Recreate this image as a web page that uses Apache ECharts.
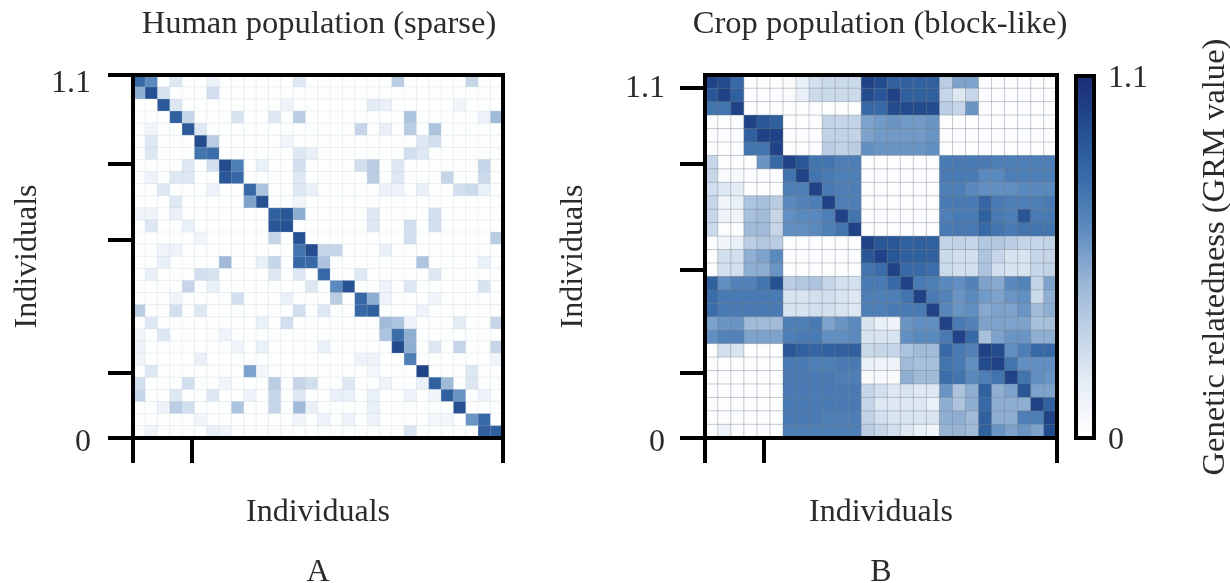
<!DOCTYPE html>
<html><head><meta charset="utf-8">
<script src="https://cdn.jsdelivr.net/npm/echarts@6/dist/echarts.min.js"></script>
<style>html,body{margin:0;background:#fff}#c{width:1230px;height:583px}</style></head>
<body><div id="c"></div>
<script>
// ---------- text ----------
const titleHuman = 'Human population (sparse)';
const titleCrop = 'Crop population (block-like)';
const axisTitle = 'Individuals';
const barTitle = 'Genetic relatedness (GRM value)';
const panelNames = ['A', 'B'];
// ---------- tick positions in GRM units ----------
const humanXTicks = [0, 0.175, 1.1];
const humanYTicks = [0, 0.197, 0.6, 0.83, 1.1];
const humanYLabels = [0, 1.09];
const cropXTicks = [0, 0.184, 1.1];
const cropYTicks = [0, 0.197, 0.51, 0.83, 1.06];
const cropYLabels = [0, 1.075];
const barLabels = [0, 1.1];
// ---------- panel A: sparse matrix, [col, row, value] ----------
const humanSize = 30;
const humanBackground = 0.012;
const humanNearDiagonal = [
 [0,0,.8],[1,0,.65],[0,1,.5],[1,1,.92],[2,1,.22],[2,2,.88],[3,2,.2],[3,3,.85],[4,3,.3],[4,4,.88],[5,4,.2],
 [5,5,.95],[6,5,.35],[5,6,.75],[6,6,.78],[7,7,.95],[8,7,.7],[7,8,.9],[8,8,.8],[9,9,.8],[10,9,.4],[9,10,.55],[10,10,.92],
 [11,11,.85],[12,11,.9],[13,11,.5],[11,12,.9],[12,12,.92],[11,13,.3],[13,13,.92],[14,14,.95],[13,14,.75],[15,14,.3],
 [13,15,.8],[14,15,.8],[15,15,.4],[15,16,.8],[16,17,.65],[17,17,.92],[16,18,.35],[18,18,.8],[19,18,.5],[18,19,.8],[19,19,.85],
 [20,20,.45],[21,20,.4],[20,21,.4],[21,21,.78],[22,21,.5],[21,22,.95],[22,22,.5],[22,23,.7],[23,24,1.0],[24,25,.85],[25,25,.45],
 [25,26,.85],[26,26,.6],[26,27,.92],[27,28,.6],[28,28,.8],[28,29,.85],[29,29,.85]
];
const humanTopRows = [
 [6,0,.12],[3,0,.2],[13,0,.2],[21,0,.35],[27,0,.3],[6,1,.25],[12,2,.12],[19,2,.18],[20,2,.15],[26,2,.1],
 [13,3,.35],[8,3,.22],[11,3,.2],[22,3,.4],[29,3,.45],[28,3,.12],[18,4,.3],[20,4,.15],[22,4,.35],[24,4,.4],[1,4,.1],
 [1,5,.2],[12,5,.1],[23,5,.2],[24,5,.25],[1,6,.2],[13,6,.2],[23,6,.2],[22,6,.25],[14,6,.15],
 [4,7,.2],[6,7,.25],[10,7,.15],[13,7,.25],[18,7,.25],[19,7,.35],[21,7,.2],[28,7,.3],
 [3,8,.2],[4,8,.2],[1,8,.12],[13,8,.2],[19,8,.35],[21,8,.2],[25,8,.3],[28,8,.28],
 [2,9,.2],[6,9,.12],[13,9,.2],[14,9,.15],[20,9,.12],[21,9,.12],[23,9,.15],[26,9,.25],[27,9,.28],[28,9,.15],
 [3,10,.2],[13,10,.1],[1,11,.1],[3,11,.15],[0,11,.1],[19,11,.2],[24,11,.25],
 [4,12,.15],[1,12,.2],[22,12,.25],[24,12,.25],[19,12,.2],[5,13,.1],[22,13,.25],[29,13,.35],[3,14,.12],[2,14,.1],[16,14,.3],[20,14,.15]
];
const humanBottomRows = [
 [7,15,.45],[2,15,.15],[10,15,.15],[11,15,.3],[23,15,.4],[28,15,.15],[1,16,.15],[5,16,.25],[6,16,.22],[11,16,.2],[13,16,.2],[18,16,.2],[24,16,.2],
 [4,17,.3],[6,17,.15],[14,17,.2],[20,17,.12],[22,17,.2],[28,17,.22],[8,18,.25],[3,18,.1],[12,18,.15],[20,18,.12],[24,18,.1],
 [0,19,.35],[3,19,.25],[5,19,.2],[13,19,.25],[15,19,.2],[23,19,.12],[1,20,.2],[10,20,.15],[12,20,.25],[26,20,.18],[29,20,.3],[22,20,.12],
 [2,21,.2],[7,21,.12],[0,21,.1],[8,22,.1],[10,22,.15],[0,22,.12],[15,22,.15],[24,22,.2],[26,22,.3],[29,22,.3],
 [5,23,.15],[0,23,.1],[18,23,.12],[19,23,.12],[29,23,.1],[9,24,.55],[1,24,.2],[10,24,.08],[19,24,.08],[27,24,.2],
 [4,25,.25],[7,25,.1],[11,25,.35],[13,25,.3],[14,25,.25],[0,25,.25],[17,25,.2],[20,25,.12],[23,25,.15],[27,25,.2],
 [0,26,.3],[3,26,.2],[6,26,.2],[9,26,.12],[11,26,.3],[13,26,.2],[16,26,.15],[17,26,.15],[19,26,.15],[22,26,.12],[24,26,.1],[28,26,.12],
 [3,27,.35],[11,27,.3],[13,27,.45],[2,27,.12],[4,27,.25],[8,27,.4],[14,27,.15],[19,27,.15],
 [5,28,.1],[13,28,.1],[15,28,.12],[17,28,.12],[19,28,.12],[24,28,.08],[25,28,.08],[1,29,.1],[6,29,.15],[7,29,.1],[22,29,.22]
];
// ---------- panel B: block matrix, one array per row ----------
const cropRow00=[1.0,.95,.8,.02,.02,.02,.05,.15,.25,.28,.28,.28,1.0,.95,.85,.85,.85,.85,.35,.55,.55,.02,.02,.02,.02,.02,.02];
const cropRow01=[.9,1.0,.85,.02,.02,.02,.05,.15,.28,.28,.28,.28,.95,.9,1.0,.85,.85,.85,.3,.2,.3,.02,.02,.02,.02,.02,.02];
const cropRow02=[.75,.75,1.0,.02,.02,.02,.02,.02,.02,.02,.02,.02,.8,.8,.95,.95,.95,.95,.35,.3,.6,.02,.02,.02,.02,.02,.02];
const cropRow03=[.02,.02,.02,1.0,.9,.85,.02,.02,.02,.32,.3,.32,.55,.58,.6,.58,.58,.6,.02,.02,.02,.02,.02,.02,.02,.02,.02];
const cropRow04=[.02,.02,.02,.85,1.0,1.0,.02,.02,.02,.32,.32,.32,.55,.58,.58,.58,.58,.6,.02,.02,.02,.02,.02,.02,.02,.02,.02];
const cropRow05=[.02,.02,.02,.75,.75,1.0,.02,.02,.02,.35,.32,.35,.62,.6,.6,.6,.6,.62,.02,.02,.02,.02,.02,.02,.02,.02,.02];
const cropRow06=[.3,.02,.02,.02,.6,.8,1.0,.9,.75,.75,.7,.7,.02,.02,.02,.02,.02,.02,.72,.72,.72,.72,.7,.7,.7,.7,.7];
const cropRow07=[.3,.05,.05,.02,.02,.02,.75,1.0,.75,.72,.7,.7,.02,.02,.02,.02,.02,.02,.72,.72,.72,.65,.65,.7,.7,.7,.7];
const cropRow08=[.25,.2,.18,.02,.02,.02,.7,.7,1.0,.72,.7,.7,.02,.02,.02,.02,.02,.02,.7,.7,.65,.62,.62,.62,.65,.65,.65];
const cropRow09=[.3,.1,.15,.4,.42,.35,.65,.68,.7,1.0,.7,.7,.02,.02,.02,.02,.02,.02,.72,.72,.72,.82,.72,.7,.7,.7,.72];
const cropRow10=[.3,.12,.1,.42,.45,.3,.62,.65,.65,.7,1.0,.75,.02,.02,.02,.02,.02,.02,.7,.72,.72,.85,.72,.7,.9,.72,.72];
const cropRow11=[.28,.02,.02,.45,.45,.3,.62,.62,.65,.7,.75,1.0,.02,.02,.02,.02,.02,.02,.72,.72,.72,.8,.75,.72,.75,.75,.75];
const cropRow12=[.02,.1,.15,.35,.38,.35,.02,.02,.02,.02,.02,.02,1.0,.9,.9,.85,.85,.85,.32,.32,.3,.38,.38,.35,.3,.3,.32];
const cropRow13=[.02,.25,.25,.5,.55,.65,.02,.02,.02,.02,.02,.02,.9,1.0,.9,.85,.85,.85,.28,.25,.25,.4,.3,.22,.22,.3,.3];
const cropRow14=[.02,.25,.25,.5,.5,.6,.02,.02,.02,.02,.02,.02,.75,.78,1.0,.8,.8,.78,.28,.25,.25,.4,.25,.22,.22,.3,.32];
const cropRow15=[.85,.62,.68,.68,.75,.92,.35,.38,.4,.3,.25,.25,.72,.72,.8,1.0,.72,.7,.65,.62,.68,.55,.52,.65,.68,.32,.55];
const cropRow16=[.78,.72,.72,.72,.72,.72,.22,.22,.25,.25,.22,.2,.7,.7,.7,.75,1.0,.72,.68,.6,.65,.58,.55,.6,.62,.28,.5];
const cropRow17=[.78,.72,.72,.72,.72,.72,.22,.22,.25,.25,.22,.2,.7,.7,.72,.72,.72,1.0,.66,.6,.62,.52,.55,.55,.6,.45,.5];
const cropRow18=[.55,.6,.6,.45,.45,.45,.7,.7,.72,.55,.6,.65,.22,.15,.12,.6,.62,.62,1.0,.72,.68,.55,.55,.55,.55,.42,.42];
const cropRow19=[.62,.68,.68,.55,.55,.55,.7,.72,.72,.62,.62,.65,.22,.22,.22,.62,.65,.65,.72,1.0,.8,.42,.55,.6,.6,.5,.5];
const cropRow20=[.02,.25,.22,.02,.02,.02,.9,.85,.82,.85,.85,.85,.28,.3,.3,.4,.45,.45,.8,.72,.68,1.0,.95,.62,.7,.8,.8];
const cropRow21=[.02,.02,.02,.02,.02,.02,.72,.72,.7,.7,.72,.72,.15,.12,.12,.45,.42,.42,.75,.72,.62,.95,1.0,.75,.62,.62,.62];
const cropRow22=[.02,.02,.02,.02,.02,.02,.72,.72,.72,.72,.7,.7,.05,.05,.05,.5,.45,.45,.78,.75,.65,.7,.75,1.0,.75,.62,.6];
const cropRow23=[.02,.02,.02,.02,.02,.02,.72,.72,.72,.72,.72,.72,.3,.25,.2,.22,.2,.2,.6,.4,.5,.85,.5,.55,.9,.55,.55];
const cropRow24=[.02,.02,.02,.02,.02,.02,.72,.72,.72,.72,.72,.72,.3,.2,.2,.2,.2,.15,.5,.4,.5,.8,.5,.5,.5,1.0,.85];
const cropRow25=[.02,.02,.02,.02,.02,.02,.72,.72,.72,.7,.7,.7,.32,.25,.22,.22,.22,.22,.5,.5,.45,.85,.5,.5,.7,.7,1.0];
const cropRow26=[.02,.12,.02,.02,.02,.02,.7,.7,.7,.7,.7,.7,.35,.3,.25,.2,.15,.1,.48,.48,.45,.85,.6,.55,.6,.55,.95];
const cropRows=[cropRow00,cropRow01,cropRow02,cropRow03,cropRow04,cropRow05,cropRow06,cropRow07,cropRow08,cropRow09,cropRow10,cropRow11,cropRow12,cropRow13,cropRow14,cropRow15,cropRow16,cropRow17,cropRow18,cropRow19,cropRow20,cropRow21,cropRow22,cropRow23,cropRow24,cropRow25,cropRow26];

// ---------- build ----------
const humanGrid=Array.from({length:humanSize},()=>Array(humanSize).fill(humanBackground));
humanTopRows.concat(humanBottomRows,humanNearDiagonal).forEach(([c,r,v])=>{humanGrid[r][c]=v;});
const toCells=rows=>rows.flatMap((row,r)=>row.map((v,c)=>[c,r,v]));
const ids=n=>Array.from({length:n},(_,i)=>String(i+1));

const FONT='"Liberation Serif","Times New Roman",serif', INK='#2b2b2b', FS=32, LINE=4;
const textStyle={fontFamily:FONT,fontSize:FS,color:INK,fontWeight:'normal'};
const titleStyle={...textStyle,fontSize:32.6};
const axLine={show:true,onZero:false,lineStyle:{color:'#000',width:LINE,cap:'square'}};
const label=v=>'{t|'+(v===0?'0':'1.1')+'}';
const shifted=dy=>({t:{...textStyle,padding:[dy,0,0,0]}});
const catX=(gi,n)=>({type:'category',gridIndex:gi,data:ids(n),show:false});
const catY=(gi,n)=>({type:'category',gridIndex:gi,data:ids(n),show:false,inverse:true});
const bottomAxis=(gi,ticks)=>({type:'value',gridIndex:gi,position:'bottom',min:0,max:1.1,z:6,
  name:axisTitle,nameLocation:'middle',nameGap:59,nameMoveOverlap:false,nameTextStyle:textStyle,
  axisLine:axLine,splitLine:{show:false},axisLabel:{show:false},
  axisTick:{show:true,customValues:ticks,length:25,lineStyle:{color:'#000',width:LINE}}});
const leftAxis=(gi,ticks,labels,gap,margin)=>({type:'value',gridIndex:gi,position:'left',min:0,max:1.1,z:6,
  name:axisTitle,nameLocation:'middle',nameGap:gap,nameMoveOverlap:false,nameTextStyle:textStyle,
  axisLine:axLine,splitLine:{show:false},
  axisLabel:{show:true,customValues:labels,margin,formatter:label,rich:shifted(10),hideOverlap:false,showMinLabel:true,showMaxLabel:true},
  axisTick:{show:true,customValues:ticks,length:25,lineStyle:{color:'#000',width:LINE}}});
const edge=(gi,pos)=>({type:'value',gridIndex:gi,position:pos,min:0,max:1.1,z:6,axisLine:axLine,axisTick:{show:false},axisLabel:{show:false},splitLine:{show:false}});
const heat=(x,y,cells,border)=>({type:'heatmap',xAxisIndex:x,yAxisIndex:y,data:cells,z:2,progressive:0,
  itemStyle:{borderColor:border,borderWidth:1},emphasis:{disabled:true},silent:true});

const chart=echarts.init(document.getElementById('c'),null,{renderer:'canvas'});
chart.setOption({
  animation:false,backgroundColor:'#fff',
  title:[
    {text:titleHuman,left:319,top:8,padding:0,textAlign:'center',textStyle:titleStyle},
    {text:titleCrop,left:880,top:8,padding:0,textAlign:'center',textStyle:titleStyle},
    {text:panelNames[0],left:318,top:557,padding:0,textAlign:'center',textStyle},
    {text:panelNames[1],left:881,top:557,padding:0,textAlign:'center',textStyle}
  ],
  grid:[
    {left:133,top:75,width:370,height:363,outerBoundsMode:'none'},
    {left:705,top:75,width:352,height:363,outerBoundsMode:'none'},
    {left:1076,top:76,width:18,height:362,outerBoundsMode:'none'}
  ],
  xAxis:[
    catX(0,humanSize),bottomAxis(0,humanXTicks),edge(0,'top'),
    catX(1,cropRows.length),bottomAxis(1,cropXTicks),edge(1,'top'),
    edge(2,'bottom'),edge(2,'top')
  ],
  yAxis:[
    catY(0,humanSize),leftAxis(0,humanYTicks,humanYLabels,89,42),edge(0,'right'),
    catY(1,cropRows.length),leftAxis(1,cropYTicks,cropYLabels,115,40),edge(1,'right'),
    {type:'value',gridIndex:2,position:'right',min:0,max:1.1,z:6,
      name:barTitle,nameLocation:'middle',nameGap:105,nameRotate:90,nameMoveOverlap:false,nameTextStyle:{...textStyle,fontSize:32.6},
      axisLine:axLine,axisTick:{show:false},splitLine:{show:false},
      axisLabel:{show:true,customValues:barLabels,margin:14,formatter:label,rich:shifted(6),hideOverlap:false}},
    edge(2,'left')
  ],
  visualMap:{type:'continuous',min:0,max:1.1,seriesIndex:[0,1],calculable:false,realtime:false,
    orient:'vertical',left:1076,top:76,itemWidth:18,itemHeight:362,padding:0,
    text:null,showLabel:false,hoverLink:false,borderWidth:0,
    inRange:{color:['#ffffff','#e8eff7','#c3d4e7','#9ab6d6','#5f8dc0','#3a6ca9','#234e90','#1a2c74']}},
  series:[
    heat(0,0,toCells(humanGrid),'rgba(190,200,212,0.22)'),
    heat(3,3,toCells(cropRows),'rgba(120,125,135,0.35)')
  ]
});
</script></body></html>
